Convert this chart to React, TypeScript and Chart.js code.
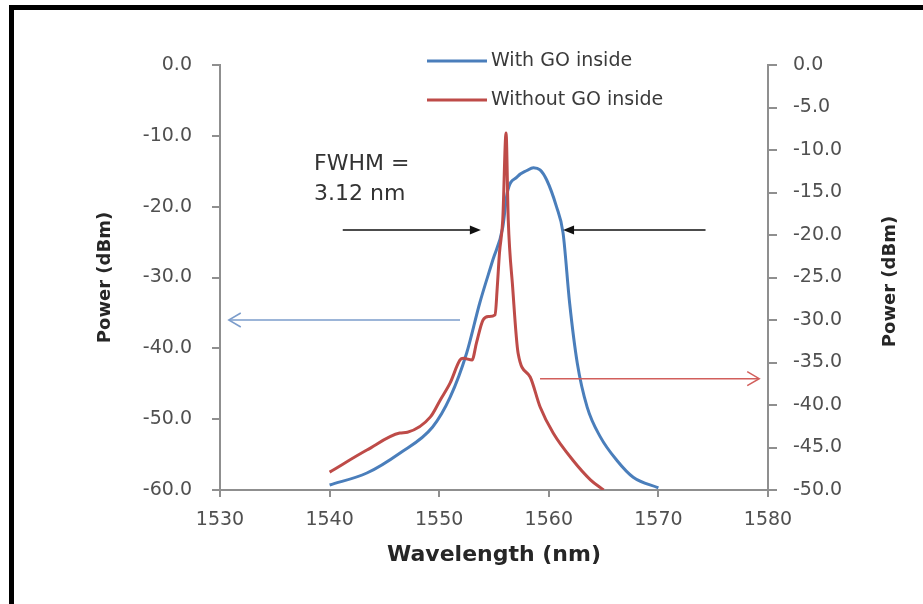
import React, { useEffect, useRef } from 'react';
import { Chart, registerables } from 'chart.js';

Chart.register(...registerables);

// ---- Data ----
// Blue: "With GO inside" (left axis, dBm)
const withGoX = [1540, 1543.4, 1546.4, 1549.4, 1551.0, 1552.5, 1553.7, 1554.9, 1555.8, 1556.2, 1557.1, 1558.0, 1558.6, 1559.2, 1559.8, 1560.7, 1561.3, 1561.9, 1562.6, 1563.5, 1564.7, 1566.2, 1567.7, 1570.0];
const withGoY = [-59.3, -57.6, -54.8, -51.1, -46.9, -40.7, -33.6, -27.5, -22.9, -18.1, -15.8, -14.9, -14.5, -14.8, -16.2, -20.0, -23.7, -33.6, -42.1, -48.3, -52.5, -55.8, -58.2, -59.7];

// Red: "Without GO inside" (right axis, dBm)
const withoutGoX = [1540, 1543.4, 1546.4, 1547.1, 1549.2, 1550.1, 1551.0, 1551.9, 1552.2, 1553.0, 1553.4, 1554.0, 1554.5, 1555.1, 1555.3, 1555.5, 1555.8, 1556.1, 1556.3, 1556.7, 1557.2, 1558.3, 1559.2, 1560.4, 1562.2, 1563.8, 1565.0];
const withoutGoY = [-47.9, -45.3, -43.3, -43.2, -41.4, -39.4, -37.4, -34.7, -34.5, -34.7, -32.7, -30.0, -29.6, -29.4, -26.1, -22.1, -18.2, -8.0, -18.2, -26.1, -33.9, -36.7, -40.2, -43.3, -46.5, -48.8, -50.0];

const seriesNames = ['With GO inside', 'Without GO inside'];
const xTickValues = [1530, 1540, 1550, 1560, 1570, 1580];
const leftTickValues = [0, -10, -20, -30, -40, -50, -60];
const rightTickValues = [0, -5, -10, -15, -20, -25, -30, -35, -40, -45, -50];

const fwhmLines = ['FWHM =', '3.12 nm'];
// Annotation arrows in data units: [xFrom, xTo, y]
const fwhmArrowLeft = [1541.2, 1553.8, -23.3];
const fwhmArrowRight = [1574.3, 1561.3, -23.3];
const blueAxisArrow = [1551.9, 1530.8, -36.0]; // left axis units
const redAxisArrow = [1559.2, 1579.2, -36.9]; // right axis units

const BLUE = '#4a7ebb';
const RED = '#be4b48';
const FONT = '"DejaVu Sans", sans-serif';

function drawArrow(ctx: CanvasRenderingContext2D, x1: number, y: number, x2: number, color: string, filled: boolean) {
  const dir = x2 > x1 ? 1 : -1;
  ctx.save();
  ctx.strokeStyle = color;
  ctx.fillStyle = color;
  ctx.lineWidth = 1.5;
  ctx.beginPath();
  ctx.moveTo(x1, y);
  ctx.lineTo(x2 - dir * (filled ? 8 : 1), y);
  ctx.stroke();
  if (filled) {
    ctx.beginPath();
    ctx.moveTo(x2, y);
    ctx.lineTo(x2 - dir * 11, y - 4.5);
    ctx.lineTo(x2 - dir * 11, y + 4.5);
    ctx.closePath();
    ctx.fill();
  } else {
    ctx.beginPath();
    ctx.moveTo(x2 - dir * 12, y - 7);
    ctx.lineTo(x2, y);
    ctx.lineTo(x2 - dir * 12, y + 7);
    ctx.stroke();
  }
  ctx.restore();
}

const decorPlugin = {
  id: 'decor',
  beforeDraw(chart: any) {
    const ctx = chart.ctx as CanvasRenderingContext2D;
    ctx.save();
    ctx.fillStyle = '#ffffff';
    ctx.fillRect(0, 0, chart.width, chart.height);
    ctx.fillStyle = '#000000';
    ctx.fillRect(9, 5, chart.width - 9, 5); // top frame
    ctx.fillRect(9, 5, 5, chart.height - 5); // left frame
    ctx.restore();
  },
  afterDraw(chart: any) {
    const ctx = chart.ctx as CanvasRenderingContext2D;
    const { x, y, y2 } = chart.scales;

    // Legend
    ctx.save();
    ctx.font = `19px ${FONT}`;
    ctx.fillStyle = '#3a3a3a';
    ctx.textBaseline = 'middle';
    ctx.textAlign = 'left';
    const legendRows = [61, 100];
    const legendColors = [BLUE, RED];
    seriesNames.forEach((name, i) => {
      ctx.strokeStyle = legendColors[i];
      ctx.lineWidth = 3;
      ctx.beginPath();
      ctx.moveTo(427, legendRows[i]);
      ctx.lineTo(487, legendRows[i]);
      ctx.stroke();
      ctx.fillText(name, 491, legendRows[i]);
    });

    // FWHM label
    ctx.font = `22px ${FONT}`;
    ctx.fillStyle = '#333333';
    ctx.fillText(fwhmLines[0], 314, 164);
    ctx.fillText(fwhmLines[1], 314, 194);
    ctx.restore();

    // Arrows
    drawArrow(ctx, x.getPixelForValue(fwhmArrowLeft[0]), y.getPixelForValue(fwhmArrowLeft[2]), x.getPixelForValue(fwhmArrowLeft[1]), '#111111', true);
    drawArrow(ctx, x.getPixelForValue(fwhmArrowRight[0]), y.getPixelForValue(fwhmArrowRight[2]), x.getPixelForValue(fwhmArrowRight[1]), '#111111', true);
    drawArrow(ctx, x.getPixelForValue(blueAxisArrow[0]), y.getPixelForValue(blueAxisArrow[2]), x.getPixelForValue(blueAxisArrow[1]), '#7b9ccb', false);
    drawArrow(ctx, x.getPixelForValue(redAxisArrow[0]), y2.getPixelForValue(redAxisArrow[2]), x.getPixelForValue(redAxisArrow[1]), '#d25f5c', false);

    // Right axis title (reads bottom-to-top like the left one)
    ctx.save();
    ctx.translate(y2.right - 33, (chart.chartArea.top + chart.chartArea.bottom) / 2 + 4);
    ctx.rotate(-Math.PI / 2);
    ctx.font = `bold 18px ${FONT}`;
    ctx.fillStyle = '#262626';
    ctx.textAlign = 'center';
    ctx.textBaseline = 'middle';
    ctx.fillText('Power (dBm)', 0, 0);
    ctx.restore();
  },
};

export default function App() {
  const canvasRef = useRef<HTMLCanvasElement | null>(null);

  useEffect(() => {
    if (!canvasRef.current) return;
    const tickFont = { family: FONT, size: 19 };
    const tickColor = '#505050';
    const axisColor = '#8f8f8f';

    const chart = new Chart(canvasRef.current, {
      type: 'line',
      data: {
        datasets: [
          {
            label: seriesNames[1],
            data: withoutGoX.map((v, i) => ({ x: v, y: withoutGoY[i] })),
            borderColor: RED,
            backgroundColor: RED,
            borderWidth: 3,
            pointRadius: 0,
            cubicInterpolationMode: 'monotone',
            yAxisID: 'y2',
          },
          {
            label: seriesNames[0],
            data: withGoX.map((v, i) => ({ x: v, y: withGoY[i] })),
            borderColor: BLUE,
            backgroundColor: BLUE,
            borderWidth: 3,
            pointRadius: 0,
            cubicInterpolationMode: 'monotone',
            yAxisID: 'y',
          },
        ],
      },
      options: {
        responsive: false,
        animation: false,
        devicePixelRatio: 1,
        layout: { padding: { top: 65, left: 0, right: 0, bottom: 0 } },
        plugins: { legend: { display: false }, tooltip: { enabled: false } },
        scales: {
          x: {
            type: 'linear',
            position: 'bottom',
            min: xTickValues[0],
            max: xTickValues[xTickValues.length - 1],
            afterBuildTicks: (s: any) => { s.ticks = xTickValues.map((v) => ({ value: v })); },
            afterFit: (s: any) => { s.height = 114; },
            ticks: { font: tickFont, color: tickColor, padding: 12, callback: (v: any) => String(v) },
            grid: { drawOnChartArea: false, tickLength: 7, color: axisColor, lineWidth: 2 },
            border: { color: axisColor, width: 2 },
            title: { display: true, text: 'Wavelength (nm)', font: { family: FONT, size: 22, weight: 'bold' }, color: '#262626', padding: { top: 0, bottom: 36 } },
          },
          y: {
            type: 'linear',
            position: 'left',
            min: leftTickValues[leftTickValues.length - 1],
            max: leftTickValues[0],
            afterBuildTicks: (s: any) => { s.ticks = leftTickValues.map((v) => ({ value: v })); },
            afterFit: (s: any) => { s.width = 220; },
            ticks: { font: tickFont, color: tickColor, padding: 20, callback: (v: any) => Number(v).toFixed(1) },
            grid: { drawOnChartArea: false, tickLength: 8, color: axisColor, lineWidth: 2 },
            border: { color: axisColor, width: 2 },
            title: { display: true, text: 'Power (dBm)', font: { family: FONT, size: 18, weight: 'bold' }, color: '#262626', padding: { top: 95, bottom: 0 } },
          },
          y2: {
            type: 'linear',
            position: 'right',
            min: rightTickValues[rightTickValues.length - 1],
            max: rightTickValues[0],
            afterBuildTicks: (s: any) => { s.ticks = rightTickValues.map((v) => ({ value: v })); },
            afterFit: (s: any) => { s.width = 155; },
            ticks: { font: tickFont, color: tickColor, padding: 16, callback: (v: any) => Number(v).toFixed(1) },
            grid: { drawOnChartArea: false, tickLength: 9, color: axisColor, lineWidth: 2 },
            border: { color: axisColor, width: 2 },
          },
        },
      },
      plugins: [decorPlugin],
    } as any);

    return () => chart.destroy();
  }, []);

  return (
    <div style={{ position: 'absolute', left: 0, top: 0, width: 923, height: 604, background: '#fff' }}>
      <canvas ref={canvasRef} width={923} height={604} style={{ display: 'block', width: 923, height: 604 }} />
    </div>
  );
}
